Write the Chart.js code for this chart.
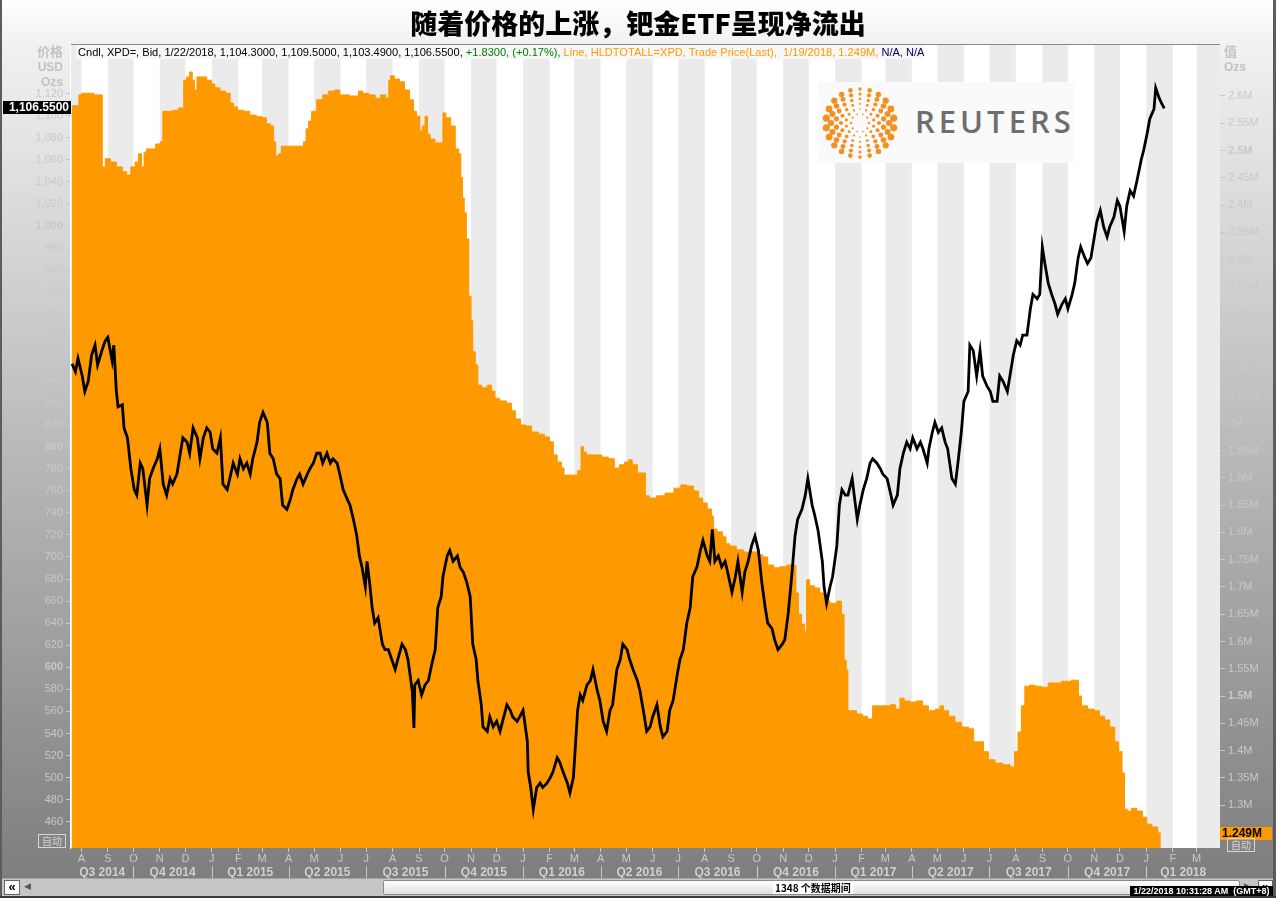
<!DOCTYPE html>
<html>
<head>
<meta charset="utf-8">
<title>随着价格的上涨，钯金ETF呈现净流出</title>
<script src="https://cdn.jsdelivr.net/npm/chart.js@4.4.1/dist/chart.umd.min.js"></script>
<style>
html,body{margin:0;padding:0}
body{width:1276px;height:898px;overflow:hidden;position:relative;
 background:linear-gradient(to bottom,#ffffff 0px,#f1f1f1 44px,#7e7e7e 878px,#7e7e7e 898px);
 font-family:"Liberation Sans",Arial,sans-serif}
#c{position:absolute;left:0;top:0}
#frameL{position:absolute;left:0;top:0;width:2px;height:898px;background:#5c5c5c}
#frameR{position:absolute;left:1273px;top:0;width:3px;height:898px;background:#5c5c5c}
#title{position:absolute;left:0;top:5px;width:1276px;text-align:center;font-family:"Noto Sans CJK SC",sans-serif;font-weight:900;font-size:27px;line-height:36px;color:#000}
#info{position:absolute;left:76px;top:45px;height:14px;line-height:14px;font-size:11px;white-space:nowrap;background:#f7f7f7;padding:0 0 0 2px}
.ax{position:absolute;color:#c2c2c2;font-weight:bold;font-size:12px;line-height:13px;white-space:nowrap}
.cj{font-family:"Noto Sans CJK SC",sans-serif;font-size:13px}
.auto{position:absolute;width:26px;height:12px;border:1px solid #d6d6d6;color:#d6d6d6;font-family:"Noto Sans CJK SC",sans-serif;font-size:10px;line-height:12px;text-align:center}
#logo{position:absolute;left:818px;top:82px;width:257px;height:81px;background:#fafafa}
#logo svg{position:absolute;left:0;top:0}
#rtext{position:absolute;left:97px;top:19px;font-family:"Open Sans",sans-serif;font-weight:600;font-size:31px;line-height:40px;letter-spacing:4px;color:#6e6e6e}
#sb{position:absolute;left:2px;top:878px;width:1271px;height:17px;background:#c6c6c6;border-top:1px solid #a4a4a4}
#sbb{position:absolute;left:0;top:896px;width:1276px;height:2px;background:#3a3a3a}
#bL1{position:absolute;left:2px;top:1px;width:14px;height:13px;background:#fff;border:1px solid #666;font-size:13px;font-weight:bold;line-height:12px;text-align:center}
#bL2{position:absolute;left:22px;top:2px;font-size:9px;color:#555}
#thumb{position:absolute;left:381px;top:1px;width:855px;height:13px;background:linear-gradient(#ffffff,#e0e0e0);border:1px solid #8a8a8a;border-radius:2px}
#per{position:absolute;left:389px;top:1px;background:#fff;font-family:"Noto Sans CJK SC",sans-serif;font-size:10px;font-weight:bold;line-height:12px;padding:0 2px;color:#000}
#bR1{position:absolute;left:1242px;top:2px;font-size:9px;color:#555}
#bR2{position:absolute;left:1256px;top:1px;width:13px;height:13px;background:#fff;border:1px solid #666;font-size:13px;font-weight:bold;line-height:12px;text-align:center}
#ts{position:absolute;left:1128px;top:7px;width:143px;height:11px;background:#000;color:#fff;font-size:9px;font-weight:bold;line-height:11px;text-align:center;white-space:nowrap}
</style>
</head>
<body>
<canvas id="c" width="1276" height="878"></canvas>
<div id="frameL"></div><div id="frameR"></div>
<div id="title">随着价格的上涨，钯金ETF呈现净流出</div>
<div id="info"><span style="color:#000">Cndl, XPD=, Bid, 1/22/2018, 1,104.3000, 1,109.5000, 1,103.4900, 1,106.5500, </span><span style="color:#008000">+1.8300, (+0.17%), </span><span style="color:#ff9900">Line, HLDTOTALL=XPD, Trade Price(Last),&nbsp; 1/19/2018, 1.249M, </span><span style="color:#000066">N/A, N/A</span></div>
<div class="ax cj" style="right:1213px;top:44px">价格</div>
<div class="ax" style="right:1213px;top:61px">USD</div>
<div class="ax" style="right:1213px;top:76px">Ozs</div>
<div class="ax cj" style="left:1224px;top:44px">值</div>
<div class="ax" style="left:1224px;top:61px">Ozs</div>
<div class="auto" style="left:38px;top:834px">自动</div>
<div class="auto" style="left:1227px;top:838px">自动</div>
<div id="logo"><svg id="dots" width="90" height="81"></svg><div id="rtext">REUTERS</div></div>
<div id="sb">
  <div id="bL1">«</div><div id="bL2">◀</div>
  <div id="thumb"><span id="per">1348 个数据期间</span></div>
  <div id="bR1">▶</div><div id="bR2">»</div>
  <div id="ts">1/22/2018 10:31:28 AM &nbsp;(GMT+8)</div>
</div>
<div id="sbb"></div>
<script>
// ---------------- data (x = days since 2014-07-21) ----------------
const monthLetters = ['J','F','M','A','M','J','J','A','S','O','N','D'];
const leftTickValues = [460,480,500,520,540,560,580,600,620,640,660,680,700,720,740,760,780,800,820,840,860,880,900,920,940,960,980,1000,1020,1040,1060,1080,1100,1120];
const leftBoldTicks = [600,800,1000];
const rightTickValues = [1.25,1.3,1.35,1.4,1.45,1.5,1.55,1.6,1.65,1.7,1.75,1.8,1.85,1.9,1.95,2.0,2.05,2.1,2.15,2.2,2.25,2.3,2.35,2.4,2.45,2.5,2.55,2.6];
const rightBoldTicks = [1.5,2.5];

// XPD= bid close (USD/oz)
const priceDay = [0,4,7,12,15,19,23,27,30,35,39,42,47,49,52,54,59,61,65,69,73,76,80,83,88,91,95,100,103,107,111,115,118,123,127,130,135,138,142,147,150,154,158,162,165,170,174,177,182,185,189,194,197,201,205,209,212,217,220,224,229,232,236,240,244,247,252,256,259,264,267,271,276,279,283,287,291,294,299,303,306,311,314,318,323,326,330,334,337,
340,344,346,349,352,355,359,364,367,371,375,379,382,387,391,394,399,401,402,406,410,414,418,422,426,429,433,435,440,443,447,452,455,459,463,467,470,474,476,480,482,487,490,494,498,502,505,510,514,517,522,525,529,534,535,538,541,545,549,552,557,561,564,569,572,576,581,584,588,590,593,596,599,604,608,611,616,619,623,627,631,634,639,643,646,651,654,658,663,666,670,
674,678,681,686,690,693,698,701,705,710,713,717,721,725,728,733,737,740,745,748,751,754,758,762,766,769,774,778,781,786,789,793,797,801,805,809,813,816,821,824,828,833,836,840,844,848,851,856,860,863,868,871,875,880,882,885,889,892,897,900,903,907,910,915,918,921,924,928,932,936,939,944,948,951,956,959,963,968,971,975,979,983,986,991,995,998,1003,1005,
1009,1012,1016,1020,1024,1027,1032,1036,1039,1043,1046,1051,1053,1057,1061,1065,1068,1073,1077,1080,1085,1088,1092,1097,1100,1104,1108,1112,1115,1120,1124,1127,1132,1135,1138,1141,1145,1149,1153,1156,1161,1165,1168,1173,1176,1180,1183,1188,1191,1195,1199,1202,1206,1210,1214,1217,1222,1226,1229,1234,1237,1241,1245,1249,1254,1257,1261,1264,1269,1271,1275,1278,1281];
const priceClose = [875,868,880,864,850,859,883,892,874,887,896,899,878,892,850,836,838,817,808,780,761,756,785,780,747,771,780,789,798,766,756,771,766,775,794,808,804,794,817,808,789,808,817,813,798,794,808,766,761,771,785,775,789,780,785,775,789,804,822,831,822,794,789,775,771,747,743,752,761,771,775,766,775,780,785,794,794,785,794,785,789,785,775,761,752,747,734,719,701,
691,673,696,677,654,640,645,621,616,616,607,598,607,621,616,607,579,545,584,588,575,584,588,603,616,654,664,682,701,706,696,701,691,686,677,664,621,607,588,566,546,542,555,546,551,542,551,566,561,555,551,555,561,533,505,491,471,491,495,491,495,500,505,518,514,505,495,486,500,524,561,575,570,584,588,598,579,570,551,542,561,566,598,607,621,616,607,598,588,579,561,
542,546,555,566,546,537,542,561,570,594,607,616,640,654,682,691,706,715,701,696,725,696,701,691,696,686,668,682,696,668,686,696,710,719,706,677,654,640,635,625,616,621,625,649,682,719,734,743,756,771,747,738,724,696,673,658,673,682,710,747,761,756,756,771,752,734,747,761,771,785,789,785,780,775,771,761,747,756,780,794,804,798,808,798,804,798,785,798,
813,822,813,817,804,798,771,766,785,813,841,850,892,887,864,887,864,855,850,841,841,864,859,850,864,883,896,892,901,901,925,938,934,938,981,966,948,938,929,920,929,934,925,938,948,971,981,971,966,971,990,1004,1014,999,990,999,1008,1023,1018,995,1018,1032,1027,1041,1060,1069,1084,1097,1106,1125,1116,1111,1106.55];

// HLDTOTALL=XPD palladium ETF holdings (million oz)
const etfDay = [0,7,9,13,25,27,35,36,42,48,56,62,66,72,76,80,83,86,89,95,101,106,107,115,121,129,133,136,140,142,145,148,154,162,165,170,177,183,188,191,197,205,212,220,226,230,235,238,240,244,247,270,273,276,279,283,291,297,305,311,317,334,338,344,352,359,365,371,372,375,381,387,393,399,402,406,410,412,416,418,422,429,434,436,441,447,452,455,457,459,461,464,467,469,471,475,477,484,490,494,498,505,514,517,523,529,535,543,551,557,563,566,572,576,578,590,596,598,602,605,617,625,633,639,645,651,654,660,666,672,673,681,690,701,711,717,725,733,737,742,748,752,753,760,766,768,775,783,792,801,807,813,819,827,834,842,848,850,854,857,861,862,868,874,880,885,893,901,904,907,909,911,916,924,930,936,942,956,963,969,973,979,986,995,1000,1009,1016,1020,1024,1032,1039,1047,1056,1059,1067,1071,1079,1086,1097,1104,1107,1112,1115,1120,1126,1133,1141,1149,1156,1165,1179,1182,1186,1196,1202,1208,1214,1220,1226,1229,1234,1235,1240,1245,1253,1258,1263,1270,1277];
const etfOz = [2.582,2.582,2.602,2.605,2.605,2.602,2.602,2.470,2.485,2.479,2.470,2.461,2.455,2.470,2.479,2.494,2.470,2.497,2.503,2.503,2.512,2.516,2.572,2.572,2.574,2.578,2.629,2.635,2.644,2.629,2.611,2.635,2.635,2.629,2.622,2.615,2.609,2.605,2.587,2.580,2.574,2.572,2.565,2.562,2.560,2.549,2.545,2.516,2.490,2.494,2.508,2.508,2.516,2.540,2.554,2.572,2.593,2.602,2.609,2.611,2.602,2.600,2.609,2.605,2.602,2.596,2.602,2.596,2.629,2.637,2.631,2.626,2.611,2.593,2.572,2.563,2.536,2.545,2.563,2.530,2.521,2.514,2.514,2.569,2.560,2.545,2.503,2.494,2.451,2.413,2.386,2.338,2.233,2.188,2.131,2.107,2.070,2.065,2.070,2.059,2.046,2.041,2.037,2.023,2.008,1.997,1.995,1.984,1.980,1.975,1.966,1.942,1.929,1.918,1.905,1.905,1.913,1.957,1.947,1.942,1.942,1.938,1.935,1.918,1.924,1.929,1.933,1.924,1.909,1.909,1.867,1.863,1.867,1.872,1.881,1.887,1.885,1.876,1.863,1.854,1.843,1.830,1.806,1.801,1.792,1.779,1.775,1.768,1.764,1.764,1.759,1.755,1.740,1.735,1.737,1.740,1.740,1.689,1.650,1.632,1.618,1.713,1.702,1.698,1.689,1.674,1.670,1.674,1.650,1.566,1.548,1.473,1.473,1.467,1.463,1.458,1.482,1.482,1.484,1.476,1.496,1.491,1.489,1.491,1.482,1.473,1.476,1.482,1.473,1.463,1.452,1.443,1.440,1.416,1.416,1.398,1.383,1.377,1.374,1.370,1.398,1.434,1.482,1.518,1.520,1.518,1.516,1.524,1.524,1.527,1.529,1.500,1.482,1.476,1.473,1.463,1.456,1.443,1.416,1.398,1.359,1.293,1.289,1.294,1.289,1.278,1.265,1.260,1.249];

const lastClose = 1106.55;
const lastHolding = 1.249;

// ---------------- helpers ----------------
const START = Date.UTC(2014, 6, 21);
const dayOf = (y, m, d) => (Date.UTC(y, m, d || 1) - START) / 864e5;
const X_MIN = -1.2, X_MAX = 1346.4;

const monthTicks = [], monthLabels = [], stripes = [];
for (let y = 2014, m = 6; dayOf(y, m) <= X_MAX; m++) {
  if (m > 11) { m = 0; y++; }
  const s = dayOf(y, m), e = dayOf(y, m + 1);
  if (m % 2 === 0) stripes.push([s, e]);
  if (s >= X_MIN && s <= X_MAX) { monthTicks.push(s); monthLabels.push(monthLetters[m]); }
}
const quarterTicks = [], quarterLabels = [], quarterBounds = [];
for (let y = 2014, q = 3; dayOf(y, (q - 1) * 3) <= X_MAX; q++) {
  if (q > 4) { q = 1; y++; }
  const s = dayOf(y, (q - 1) * 3), e = dayOf(y, q * 3);
  if (s > X_MIN) quarterBounds.push(s);
  quarterTicks.push((Math.max(s, X_MIN) + Math.min(e, X_MAX)) / 2);
  quarterLabels.push('Q' + q + ' ' + y);
}

const fmtLeft = v => v.toLocaleString('en-US');
const fmtRight = v => (+v.toFixed(2)).toString() + 'M';

// ---------------- chart ----------------
const bgPlugin = {
  id: 'bg',
  beforeDatasetsDraw(chart) {
    const { ctx, chartArea: a, scales: { x } } = chart;
    ctx.save();
    ctx.beginPath(); ctx.rect(a.left, a.top, a.width, a.height); ctx.clip();
    ctx.fillStyle = '#ffffff'; ctx.fillRect(a.left, a.top, a.width, a.height);
    ctx.fillStyle = '#ebebeb';
    stripes.forEach(([s, e]) => {
      const x0 = x.getPixelForValue(s), x1 = x.getPixelForValue(e);
      ctx.fillRect(x0, a.top, x1 - x0, a.height);
    });
    ctx.restore();
  },
  afterDraw(chart) {
    const { ctx, chartArea: a, scales: { x, yP, yE } } = chart;
    ctx.save();
    ctx.strokeStyle = '#8a8a8a'; ctx.lineWidth = 1;
    ctx.beginPath(); ctx.moveTo(a.left, a.top + 0.5); ctx.lineTo(a.right, a.top + 0.5); ctx.stroke();
    ctx.strokeStyle = '#ffffff';
    ctx.beginPath(); ctx.moveTo(a.left - 0.5, a.top); ctx.lineTo(a.left - 0.5, a.bottom + 1); ctx.stroke();
    ctx.strokeStyle = '#c8c8c8';
    quarterBounds.forEach(v => {
      const px = Math.round(x.getPixelForValue(v)) + 0.5;
      ctx.beginPath(); ctx.moveTo(px, 866); ctx.lineTo(px, 878); ctx.stroke();
    });
    ctx.font = 'bold 12px "Liberation Sans"';
    ctx.textBaseline = 'middle';
    let py = Math.round(yP.getPixelForValue(lastClose));
    ctx.fillStyle = '#000'; ctx.fillRect(3, py - 7, 68, 13);
    ctx.fillStyle = '#fff'; ctx.textAlign = 'right';
    ctx.fillText(lastClose.toLocaleString('en-US', { minimumFractionDigits: 4 }), 69, py);
    py = Math.round(yE.getPixelForValue(lastHolding));
    ctx.fillStyle = '#ff9900'; ctx.fillRect(a.right, py - 6, 52, 13);
    ctx.fillStyle = '#000'; ctx.textAlign = 'left';
    ctx.fillText(lastHolding + 'M', a.right + 2, py + 1);
    ctx.restore();
  }
};

Chart.defaults.font.family = '"Liberation Sans", Arial, sans-serif';
const tickColor = '#c8c8c8';

new Chart(document.getElementById('c'), {
  type: 'line',
  data: {
    datasets: [
      {
        label: 'XPD=',
        data: priceDay.map((d, i) => ({ x: d, y: priceClose[i] })),
        yAxisID: 'yP', xAxisID: 'x',
        borderColor: '#000000', borderWidth: 2.8, pointRadius: 0, fill: false, order: 0,
        borderJoinStyle: 'miter'
      },
      {
        label: 'HLDTOTALL=XPD',
        data: etfDay.map((d, i) => ({ x: d, y: etfOz[i] })),
        yAxisID: 'yE', xAxisID: 'x', stepped: 'middle',
        borderColor: '#ff9900', backgroundColor: '#ff9900', borderWidth: 1, pointRadius: 0,
        fill: 'start', order: 1
      }
    ]
  },
  options: {
    responsive: false, animation: false, devicePixelRatio: 1,
    layout: { padding: { top: 44, left: 0, right: 0, bottom: 0 } },
    plugins: { legend: { display: false }, tooltip: { enabled: false }, title: { display: false } },
    elements: { line: { tension: 0 } },
    scales: {
      x: {
        type: 'linear', position: 'bottom', min: X_MIN, max: X_MAX, weight: 0,
        afterFit: s => { s.height = 15; },
        afterBuildTicks: s => { s.ticks = monthTicks.map(v => ({ value: v })); },
        ticks: { autoSkip: false, maxRotation: 0, color: tickColor, padding: 0,
                 font: { size: 11 }, callback: (v, i) => monthLabels[i] },
        grid: { drawOnChartArea: false, drawTicks: true, tickLength: 4, tickColor: tickColor },
        border: { display: false }
      },
      xq: {
        type: 'linear', position: 'bottom', min: X_MIN, max: X_MAX, weight: 1,
        afterFit: s => { s.height = 15; },
        afterBuildTicks: s => { s.ticks = quarterTicks.map(v => ({ value: v })); },
        ticks: { autoSkip: false, maxRotation: 0, color: '#d0d0d0', padding: 2,
                 font: { size: 12, weight: 'bold' }, callback: (v, i) => quarterLabels[i] },
        grid: { display: false, drawTicks: false },
        border: { display: false }
      },
      yP: {
        type: 'linear', position: 'left', min: 436.2, max: 1164.9,
        afterFit: s => { s.width = 71; },
        afterBuildTicks: s => { s.ticks = leftTickValues.map(v => ({ value: v })); },
        ticks: { color: tickColor, padding: 3, callback: v => fmtLeft(v),
                 font: c => ({ size: 11, weight: leftBoldTicks.includes(c.tick && c.tick.value) ? 'bold' : 'normal' }) },
        grid: { drawOnChartArea: false, drawTicks: true, tickLength: 5, tickColor: tickColor },
        border: { display: false }
      },
      yE: {
        type: 'linear', position: 'right', min: 1.2214, max: 2.6953,
        afterFit: s => { s.width = 56; },
        afterBuildTicks: s => { s.ticks = rightTickValues.map(v => ({ value: v })); },
        ticks: { color: tickColor, padding: 3, callback: v => fmtRight(v),
                 font: c => ({ size: 11, weight: rightBoldTicks.includes(c.tick && c.tick.value) ? 'bold' : 'normal' }) },
        grid: { drawOnChartArea: false, drawTicks: true, tickLength: 5, tickColor: tickColor },
        border: { display: false }
      }
    }
  },
  plugins: [bgPlugin]
});

(function () {
  const el = document.getElementById('info');
  const w = el.scrollWidth;
  el.style.fontSize = (11 * 849 / w).toFixed(2) + 'px';
})();

(function () {
  const svg = document.getElementById('dots');
  const cx = 42, cy = 41;
  const rings = [[9, 10, 1.2], [14, 14, 1.6], [19, 16, 2.1], [24, 18, 2.6], [29, 20, 3.1], [34, 22, 3.6]];
  let html = '';
  rings.forEach(([r, n, s], k) => {
    for (let i = 0; i < n; i++) {
      const t = (i + (k % 2) * 0.5) / n * Math.PI * 2;
      const rr = s * (0.5 + 0.5 * Math.abs(Math.cos(t)));
      html += `<circle cx="${(cx + r * Math.cos(t)).toFixed(1)}" cy="${(cy + r * Math.sin(t)).toFixed(1)}" r="${rr.toFixed(2)}" fill="#f39020"/>`;
    }
  });
  svg.innerHTML = html;
})();
</script>
</body>
</html>
